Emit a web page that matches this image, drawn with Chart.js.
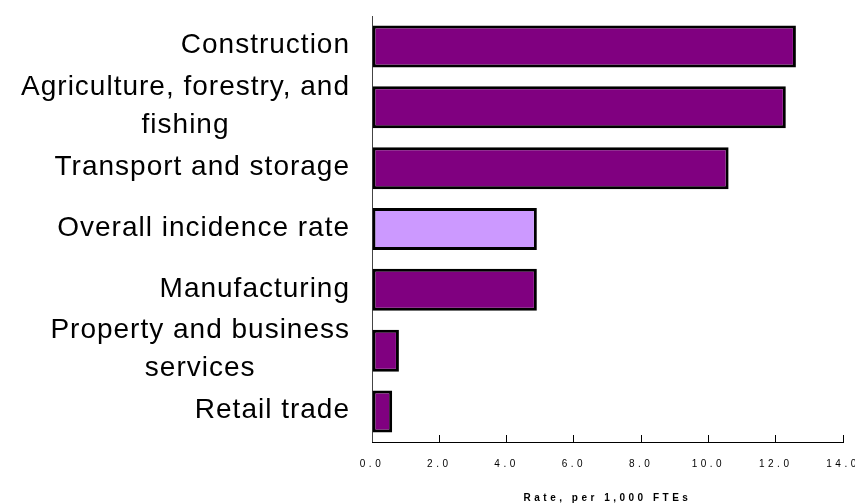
<!DOCTYPE html>
<html>
<head>
<meta charset="utf-8">
<script src="https://cdn.jsdelivr.net/npm/chart.js@4/dist/chart.umd.min.js"></script>
<style>
  body { margin: 0; background: #fff; }
</style>
</head>
<body>
<canvas id="chart" width="855" height="504"></canvas>
<script>
const categories = [
  ['Construction'],
  ['Agriculture, forestry, and', 'fishing'],
  ['Transport and storage'],
  ['Overall incidence rate'],
  ['Manufacturing'],
  ['Property and business', 'services'],
  ['Retail trade'],
];
const rates = [12.6, 12.3, 10.6, 4.9, 4.9, 0.8, 0.6];
const barColors = ['#800080', '#800080', '#800080', '#CC99FF', '#800080', '#800080', '#800080'];
const axisTitle = 'Rate, per 1,000 FTEs';

// small spaced-out text on the x axis, like the original
const spacing = {
  id: 'spacing',
  beforeDraw: chart => {
    chart.ctx.letterSpacing = '3.5px';
  },
};

// category labels: block right-aligned at the axis, wrapped lines centred in the block
const catLabels = {
  id: 'catLabels',
  afterDraw: chart => {
    const ctx = chart.ctx;
    const yScale = chart.scales.y;
    const right = chart.chartArea.left - 22;
    const lineH = 38;
    ctx.save();
    ctx.letterSpacing = '1px';
    ctx.font = '28px "Liberation Sans", Arial, sans-serif';
    ctx.fillStyle = '#000';
    ctx.textBaseline = 'middle';
    ctx.textAlign = 'center';
    chart.data.labels.forEach((lines, i) => {
      const mid = yScale.getPixelForValue(i) - 1;
      const w = Math.max(...lines.map(l => ctx.measureText(l).width));
      const top = mid - (lines.length - 1) * lineH / 2;
      lines.forEach((l, j) => {
        ctx.fillText(l, right - w / 2, top + j * lineH);
      });
    });
    ctx.restore();
    ctx.letterSpacing = '0px';
  },
};

new Chart(document.getElementById('chart'), {
  type: 'bar',
  data: {
    labels: categories,
    datasets: [
      {
        data: rates,
        backgroundColor: barColors,
        borderColor: '#000',
        borderWidth: 3,
        borderSkipped: false,
        categoryPercentage: 1,
        barPercentage: 0.69,
      },
    ],
  },
  options: {
    indexAxis: 'y',
    responsive: false,
    animation: false,
    devicePixelRatio: 1,
    layout: { padding: { top: 16, right: 12, left: 0, bottom: 0 } },
    plugins: {
      legend: { display: false },
      tooltip: { enabled: false },
    },
    scales: {
      y: {
        ticks: { display: false },
        grid: { display: false },
        border: { display: true, color: '#444', width: 1 },
        afterFit: scale => {
          scale.width = 372;
        },
      },
      x: {
        min: 0,
        max: 14,
        ticks: {
          stepSize: 2,
          color: '#000',
          padding: 23,
          maxRotation: 0,
          font: { family: '"Liberation Sans", Arial, sans-serif', size: 10 },
          callback: v => v.toFixed(1),
        },
        grid: {
          drawOnChartArea: false,
          tickLength: -7,
          tickColor: '#000',
        },
        border: { display: true, color: '#000', width: 1 },
        title: {
          display: true,
          text: axisTitle,
          color: '#000',
          padding: 0,
          font: { family: '"Liberation Sans", Arial, sans-serif', size: 10, weight: 'bold', lineHeight: 1.2 },
        },
        afterFit: scale => {
          scale.height = 62;
          scale.paddingLeft = 0;
          scale.paddingRight = 0;
        },
      },
    },
  },
  plugins: [spacing, catLabels],
});
</script>
</body>
</html>
